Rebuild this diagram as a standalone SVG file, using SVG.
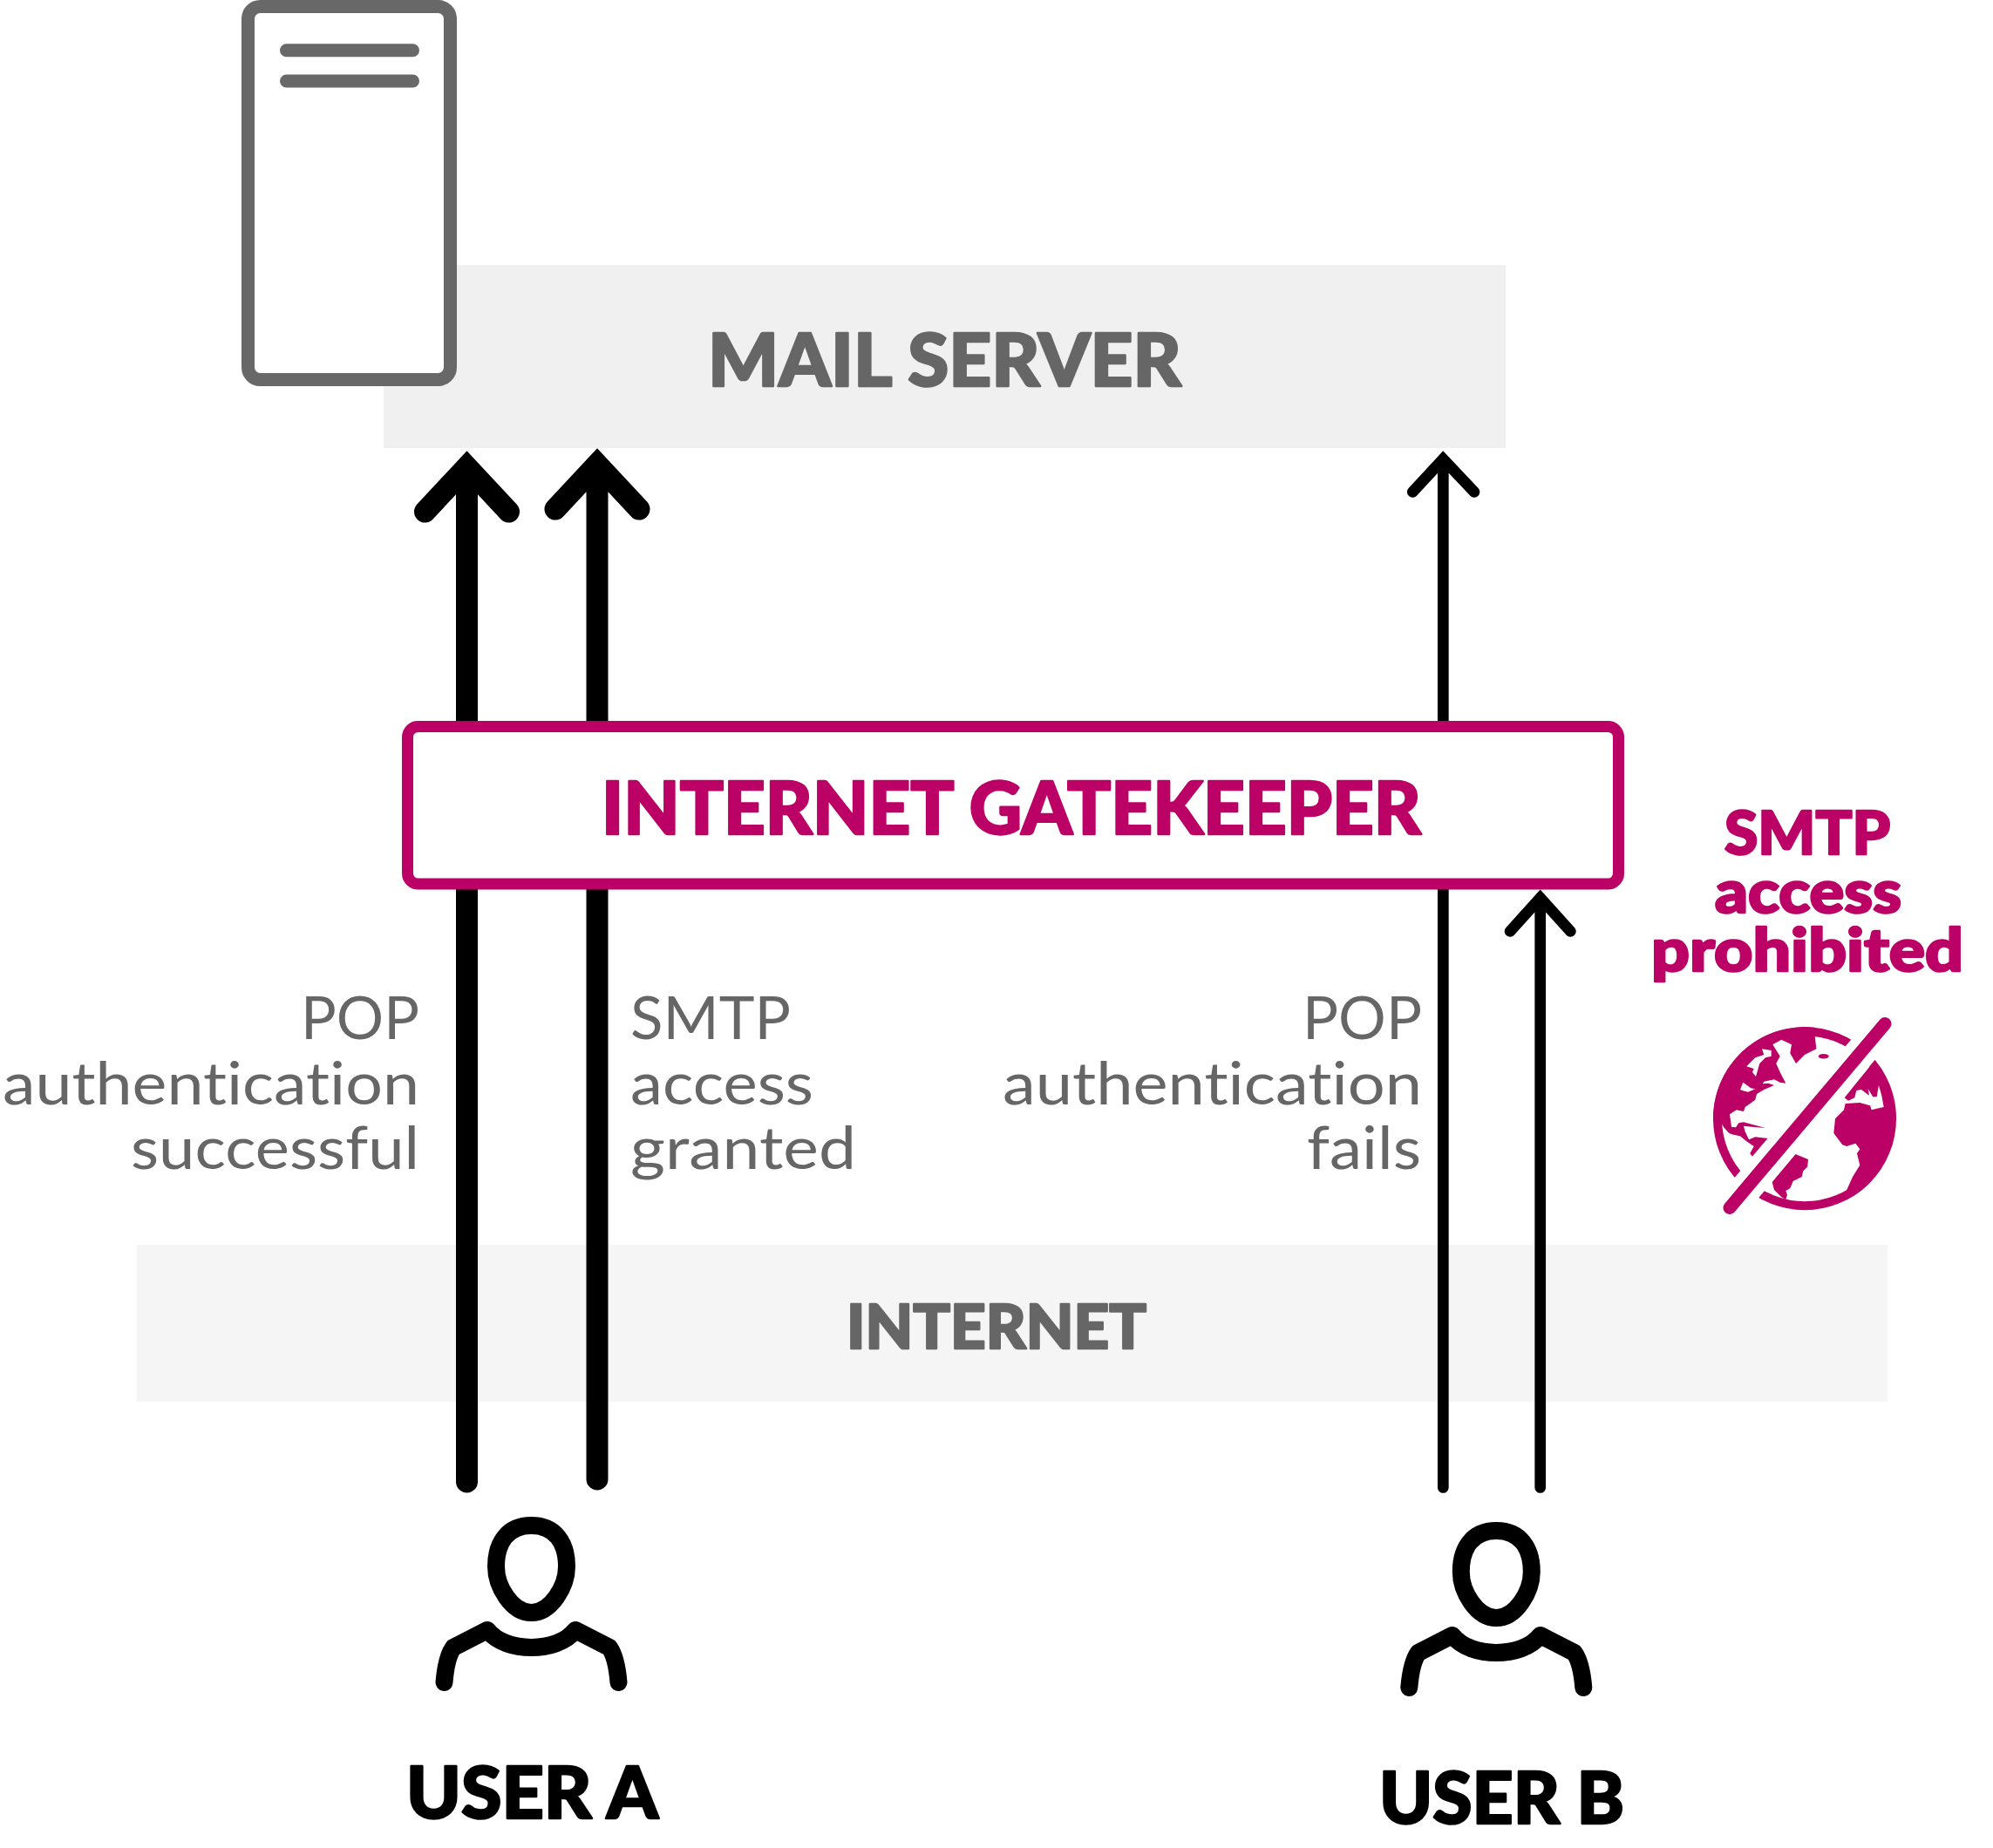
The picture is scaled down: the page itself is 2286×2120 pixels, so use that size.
<svg xmlns="http://www.w3.org/2000/svg" width="2286" height="2120" viewBox="0 0 2286 2120">
<style>
text{font-family:"Lato","Liberation Sans",sans-serif;font-variant-ligatures:none}
.b{font-weight:900;stroke-width:2.5px;stroke-linejoin:round}
.g{fill:#666;font-size:67px;font-weight:400}
.m{fill:#bb0066;stroke:#bb0066}
.k{fill:#000;stroke:#000}
.d{fill:#666;stroke:#666}
.sh{fill:none;stroke:#000;stroke-linecap:round;stroke-linejoin:miter;stroke-miterlimit:10}
.w{stroke-width:25}
.t{stroke-width:12.7}
.pp{fill:none;stroke:#000;stroke-width:20;stroke-linecap:round;stroke-linejoin:round}
</style>
<defs>
<g id="person">
<path class="pp" d="M609.5,1750C637,1750 650,1770 650,1797C650,1820 632,1850 609.5,1850C587,1850 569,1820 569,1797C569,1770 582,1750 609.5,1750Z"/>
<path class="pp" d="M509.5,1930C511,1912 515,1897 520,1890L559,1870C570,1884 590,1890 609.5,1890C629,1890 649,1884 660,1870L699,1890C704,1897 708,1912 709.5,1930"/>
</g>
</defs>
<rect width="2286" height="2120" fill="#fff"/>
<g id="mail-server-band"><rect x="440" y="304" width="1287" height="210" fill="#f0f0f0"/><text class="b d" x="812" y="443" font-size="83" textLength="543" lengthAdjust="spacingAndGlyphs">MAIL SERVER</text></g>
<g id="internet-band"><rect x="157" y="1428" width="2008" height="180" fill="#f5f5f5"/><text class="b d" x="971" y="1547" font-size="71" textLength="344" lengthAdjust="spacingAndGlyphs">INTERNET</text></g>
<g id="server"><rect x="284.5" y="7.5" width="232" height="428" rx="14" fill="#fff" stroke="#686868" stroke-width="15"/><path d="M328.5,57.7H473.5M328.5,93H473.5" stroke="#686868" stroke-width="15" stroke-linecap="round"/></g>
<g id="connectors">
<path class="sh w" d="M535.5,1700V540M487.5,587L535.5,535.5L583.5,587"/>
<path class="sh w" d="M685,1697V537M637,584L685,532.5L733,584"/>
<path class="sh t" d="M1655.3,1706.5V530M1620.3,564.4L1655.3,526.6L1691,564.4"/>
<path class="sh t" d="M1766.7,1706.5V1034M1732,1068.4L1766.7,1030L1801.4,1068.4"/>
</g>
<g id="gatekeeper"><rect x="467.5" y="833.5" width="1389" height="180.5" rx="12" fill="#fff" stroke="#bb0066" stroke-width="13"/><text class="b m" x="690" y="956.5" font-size="83" textLength="940" lengthAdjust="spacingAndGlyphs">INTERNET GATEKEEPER</text></g>
<g id="label-pop-a">
<text class="g" x="345" y="1192" textLength="136" lengthAdjust="spacingAndGlyphs">POP</text>
<text class="g" x="3" y="1267" textLength="478" lengthAdjust="spacingAndGlyphs">authentication</text>
<text class="g" x="150" y="1341" textLength="331" lengthAdjust="spacingAndGlyphs">successful</text>
</g>
<g id="label-smtp-a">
<text class="g" x="723" y="1192" textLength="184" lengthAdjust="spacingAndGlyphs">SMTP</text>
<text class="g" x="723" y="1267" textLength="210" lengthAdjust="spacingAndGlyphs">access</text>
<text class="g" x="723" y="1341" textLength="259" lengthAdjust="spacingAndGlyphs">granted</text>
</g>
<g id="label-pop-b">
<text class="g" x="1494" y="1192" textLength="137" lengthAdjust="spacingAndGlyphs">POP</text>
<text class="g" x="1150" y="1267" textLength="481" lengthAdjust="spacingAndGlyphs">authentication</text>
<text class="g" x="1499" y="1341" textLength="131" lengthAdjust="spacingAndGlyphs">fails</text>
</g>
<g id="label-smtp-prohibited">
<text class="b m" x="1978" y="980" font-size="68" textLength="190" lengthAdjust="spacingAndGlyphs">SMTP</text>
<text class="b m" x="1967" y="1047" font-size="68" textLength="214" lengthAdjust="spacingAndGlyphs">access</text>
<text class="b m" x="1894" y="1113.5" font-size="68" textLength="358" lengthAdjust="spacingAndGlyphs">prohibited</text>
</g>
<g id="globe">
<circle cx="2070" cy="1283.2" r="100" fill="none" stroke="#bb0066" stroke-width="10"/>
<g fill="#bb0066" fill-rule="evenodd">
<path d="M2081.7,1178.7A105,105 0 0 0 1965.2,1287L1975.3,1290L1977.3,1293.3L1983.3,1300L1988.3,1301.7L1996,1303.3L2003.3,1309.3L2011.7,1315L2007.3,1323.3L2010,1326.7L2028.3,1306L2013.3,1304.3L2006,1307.3L2001.7,1298.3L2000,1291.7L2010,1292.7L2025,1294L2010,1290L2000,1287.3L1994.3,1288.3L1991,1293.3L1986,1292.7L1984,1278.3L1991.7,1273.3L2000,1275L2001.7,1270L2013.3,1261.7L2015,1255L2023.3,1250L2035,1245L2028.3,1242.7L2021.7,1243.3L2023.3,1240.7L2035,1238.3L2041.7,1241.7L2048.3,1242.7L2041.7,1230L2037.3,1220L2041.7,1211.7L2033.3,1198.3L2043.3,1192.7L2055,1198.3L2053.3,1208.3L2060,1220L2070,1210L2083.3,1203.3L2081.7,1188Z
M2003.3,1223.3L2013.3,1213.3L2023.3,1210L2021,1203.3L2031.7,1205L2031.7,1211.7L2025,1213.3L2018.3,1220L2014,1235L2010,1230L2011.7,1226Z
M1996,1250L1999.3,1241.7L2008.3,1248.3L2013.3,1249.3L2005,1252.7L1998.3,1251Z"/>
<ellipse cx="2091.7" cy="1211.7" rx="6" ry="2.8"/>
<path d="M2150,1216.7A105,105 0 0 1 2125,1372.5L2118.3,1365L2125,1350L2133.3,1336.7L2130,1323.3L2133.3,1318.3L2128.3,1311.7L2118,1315L2113.3,1313.3L2103.3,1300L2105,1283.3L2115,1273.3L2116.7,1266L2133.3,1265L2145,1268.3L2146.7,1273.3L2152.7,1271.7L2160.7,1270L2158.3,1256.7L2155,1245L2152.7,1258.3L2148.3,1258.3L2142.7,1249.3L2144,1256.7L2135,1250L2129.3,1251L2127.3,1259.3L2120,1262.7L2115.7,1259.3Z"/>
<path d="M2059.3,1324L2074,1330L2073.3,1338.3L2068.3,1343.3L2066.7,1350L2056.7,1355L2053.3,1363.3L2048.3,1366L2050,1370.7L2048.3,1376L2043.3,1373.3L2035,1365L2032.7,1356Z"/>
</g>
<path d="M1984,1385.5L2162,1174.5" stroke="#fff" stroke-width="36" fill="none"/>
<path d="M1984,1385.5L2162,1174.5" stroke="#bb0066" stroke-width="15" stroke-linecap="round" fill="none"/>
</g>
<g id="user-a"><use href="#person"/><text class="b k" x="466" y="2086" font-size="82" textLength="289" lengthAdjust="spacingAndGlyphs">USER A</text></g>
<g id="user-b"><use href="#person" transform="translate(1106.8,6)"/><text class="b k" x="1582" y="2092" font-size="82" textLength="281" lengthAdjust="spacingAndGlyphs">USER B</text></g>
</svg>
